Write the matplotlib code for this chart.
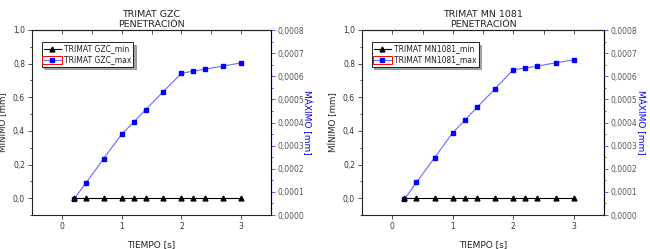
import matplotlib
matplotlib.use("Agg")
import matplotlib.pyplot as plt
from matplotlib.ticker import FuncFormatter, MultipleLocator
from matplotlib.patches import Rectangle

# tiempo [s]
tiempo = [0.2, 0.4, 0.7, 1.0, 1.2, 1.4, 1.7, 2.0, 2.2, 2.4, 2.7, 3.0]

# TRIMAT GZC
gzc_min = [0, 0, 0, 0, 0, 0, 0, 0, 0, 0, 0, 0]
gzc_max = [0.000068, 0.000137, 0.000244, 0.000349, 0.000401, 0.000455,
           0.000534, 0.000613, 0.000622, 0.000631, 0.000644, 0.000658]

# TRIMAT MN 1081
mn_min = [0, 0, 0, 0, 0, 0, 0, 0, 0, 0, 0, 0]
mn_max = [0.0000675, 0.000141, 0.000248, 0.000356, 0.000410, 0.000465,
          0.000546, 0.000628, 0.000635, 0.000644, 0.000658, 0.000671]

panels = [
    ("TRIMAT GZC\nPENETRACIÓN", "TRIMAT GZC_min", "TRIMAT GZC_max", gzc_min, gzc_max,
     [32 / 650, 1 - 215 / 249, 239 / 650, 185 / 249]),
    ("TRIMAT MN 1081\nPENETRACIÓN", "TRIMAT MN1081_min", "TRIMAT MN1081_max", mn_min, mn_max,
     [362 / 650, 1 - 215 / 249, 242 / 650, 185 / 249]),
]

blue = "#0000ff"
line_blue = "#6a6aff"
axis_blue = "#3c3cff"
dark = "#222222"

def comma(fmt):
    return FuncFormatter(lambda v, p: (fmt % v).replace(".", ","))

plt.rcParams["font.family"] = "DejaVu Sans"
fig = plt.figure(figsize=(6.5, 2.49), dpi=100)

legends = []
for title, lab_min, lab_max, ymin, ymax, pos in panels:
    ax = fig.add_axes(pos)
    ax2 = ax.twinx()
    l1, = ax.plot(tiempo, ymin, color="black", lw=0.8, marker="^", ms=3.5,
                  label=lab_min, zorder=3)
    l2, = ax2.plot(tiempo, ymax, color=line_blue, lw=0.8, marker="s", ms=3.5,
                   mfc=blue, mec=blue, label=lab_max)
    ax.set_xlim(-0.5, 3.5)
    ax.set_ylim(-0.1, 1.0)
    ax2.set_ylim(0, 0.0008)

    ax.xaxis.set_major_locator(MultipleLocator(1))
    ax.yaxis.set_major_locator(MultipleLocator(0.2))
    ax.yaxis.set_minor_locator(MultipleLocator(0.1))
    ax2.yaxis.set_major_locator(MultipleLocator(0.0001))
    ax2.yaxis.set_minor_locator(MultipleLocator(0.00005))
    ax.yaxis.set_major_formatter(comma("%.1f"))
    ax2.yaxis.set_major_formatter(comma("%.4f"))

    ax.tick_params(axis="both", which="major", labelsize=5.5, length=3, width=0.6,
                   colors="#333333", pad=2)
    ax.tick_params(axis="both", which="minor", length=1.5, width=0.6, colors="#333333")
    ax2.tick_params(axis="y", which="major", labelsize=5.5, length=3, width=0.6,
                    color=axis_blue, labelcolor="#555555", pad=2)
    ax2.tick_params(axis="y", which="minor", length=1.5, width=0.6, color=axis_blue)

    # top axis: inward ticks every 0.5, no labels
    top = ax.secondary_xaxis("top")
    top.xaxis.set_major_locator(MultipleLocator(0.5))
    top.tick_params(direction="in", length=3, width=0.6, colors="#333333",
                    labeltop=False)
    top.spines["top"].set_linewidth(0.8)
    top.spines["top"].set_color(dark)

    for s in ["left", "top", "bottom"]:
        ax.spines[s].set_linewidth(0.8)
        ax.spines[s].set_color(dark)
    ax2.spines["right"].set_color(axis_blue)
    ax2.spines["right"].set_linewidth(0.8)
    for s in ["left", "top", "bottom"]:
        ax2.spines[s].set_visible(False)

    ax.set_title(title, fontsize=6.8, pad=2, color=dark, linespacing=1.2)
    ax.set_xlabel("TIEMPO [s]", fontsize=6.5, color=dark)
    ax.xaxis.set_label_coords(0.5, -0.135)
    ax.set_ylabel("MÍNIMO [mm]", fontsize=6.3, color=dark)
    ax.yaxis.set_label_coords(-0.098, 0.5)
    ax2.set_ylabel("MÁXIMO [mm]", fontsize=6.5, color=blue, rotation=270,
                   va="center")
    ax2.yaxis.set_label_coords(1.15, 0.5)

    leg = ax.legend(handles=[l1, l2], loc="upper left", bbox_to_anchor=(0.04, 0.935),
                    fontsize=5.5, frameon=True, fancybox=False, shadow=True,
                    borderpad=0.3, handlelength=2.2, handletextpad=0.4,
                    labelspacing=0.25, borderaxespad=0)
    leg.get_frame().set_edgecolor("black")
    leg.get_frame().set_linewidth(0.6)
    for txt in leg.get_texts():
        txt.set_color(dark)
    ax.set_zorder(ax2.get_zorder() + 1)
    ax.patch.set_visible(False)
    legends.append(leg)

# red selection box around the max handle in the legend
fig.canvas.draw()
inv = fig.transFigure.inverted()
for leg in legends:
    h = leg.legend_handles[1]
    bb = h.get_window_extent(fig.canvas.get_renderer())
    cy = (bb.y0 + bb.y1) / 2
    (x0, y0), (x1, y1) = inv.transform([[bb.x0 + 1, cy - 4], [bb.x1 - 1, cy + 4]])
    fig.patches.append(Rectangle((x0, y0), x1 - x0, y1 - y0, transform=fig.transFigure,
                                 fill=False, ec="red", lw=0.7, zorder=10))

fig.savefig("out.png", dpi=100)
